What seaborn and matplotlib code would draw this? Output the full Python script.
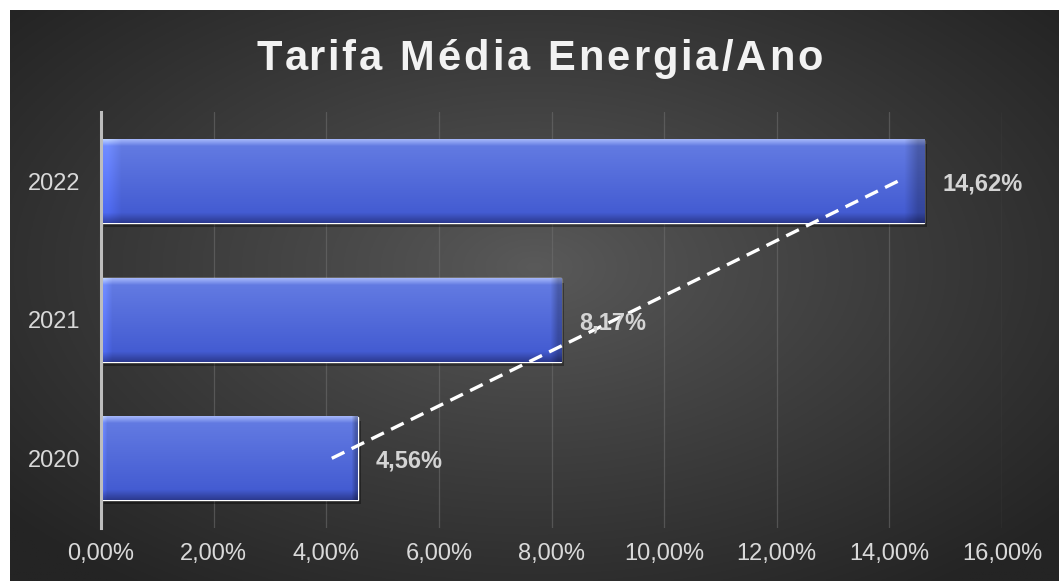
import numpy as np
import matplotlib
matplotlib.use("Agg")
import matplotlib.pyplot as plt
import seaborn as sns

# Dados
anos = ['2022', '2021', '2020']
tarifa = [14.62, 8.17, 4.56]
rotulos = ['14,62%', '8,17%', '4,56%']
ticks_x = [0, 2, 4, 6, 8, 10, 12, 14, 16]
titulo = 'Tarifa Média Energia/Ano'

sns.set_style("white")
plt.rcParams['font.family'] = ['Liberation Sans', 'DejaVu Sans']

fig = plt.figure(figsize=(10.59, 5.81), dpi=100)
fig.patch.set_facecolor('white')

# fundo escuro com gradiente radial
bg_ax = fig.add_axes([10 / 1059, 0, 1049 / 1059, 571 / 581], zorder=-10)
yy, xx = np.mgrid[-1:1:300j, -1:1:500j]
r = np.clip(np.sqrt((xx * 0.95) ** 2 + ((yy + 0.1) * 0.9) ** 2) / 1.25, 0, 1)
c_centro = np.array([0x5a, 0x5a, 0x5a]) / 255
c_borda = np.array([0x24, 0x24, 0x24]) / 255
fundo = c_centro + (c_borda - c_centro) * r[..., None] ** 0.9
bg_ax.imshow(fundo, aspect='auto', extent=(0, 1, 0, 1))
bg_ax.axis('off')

ax = fig.add_axes([101 / 1059, 53 / 581, 901 / 1059, 416 / 581])
ax.set_facecolor('none')

sns.barplot(x=tarifa, y=anos, orient='h', width=0.6, color='#5470dc',
            ax=ax, zorder=3)

# gradiente nas barras
h_img = 100
perfil = np.linspace(0, 1, h_img)
topo = np.array([0xa4, 0xb6, 0xfa]) / 255
meio1 = np.array([0x62, 0x7a, 0xe2]) / 255
meio2 = np.array([0x44, 0x5c, 0xd2]) / 255
base = np.array([0x2c, 0x3a, 0x90]) / 255
cores = []
for p in perfil:
    if p < 0.08:
        c = topo + (meio1 - topo) * (p / 0.08)
    elif p < 0.88:
        c = meio1 + (meio2 - meio1) * ((p - 0.08) / 0.80)
    elif p < 0.94:
        c = meio2 + (base - meio2) * ((p - 0.88) / 0.06) * 0.5
    else:
        c = meio2 + (base - meio2) * (0.5 + (p - 0.94) / 0.06 * 0.5)
    cores.append(c)
grad = np.array(cores)[:, None, :].repeat(60, axis=1)
grad[:, -1, :] = grad[:, -1, :] * 0.75
grad[:, 0, :] = np.clip(grad[:, 0, :] * 1.15, 0, 1)

for patch in ax.patches:
    x0, y0 = patch.get_x(), patch.get_y()
    w, h = patch.get_width(), patch.get_height()
    # sombra
    ax.add_patch(plt.Rectangle((x0 + 0.05, y0 + 0.03), w, h, color='black',
                               alpha=0.35, zorder=2, lw=0))
    ax.imshow(grad, aspect='auto', extent=(x0, x0 + w, y0 + h, y0),
              zorder=4, interpolation='bilinear')

# linha de tendencia
idx = np.arange(len(anos))
coef = np.polyfit(idx, tarifa, 1)
ax.plot(np.polyval(coef, idx[[0, -1]]), idx[[0, -1]], color='white',
        lw=2.4, ls=(0, (4.2, 2.4)), zorder=6)

# rotulos de dados
for i, (v, txt) in enumerate(zip(tarifa, rotulos)):
    ax.text(v + 0.32, i + 0.02, txt, va='center', ha='left', fontsize=17,
            fontweight='bold', color='#d4d4d4', zorder=7)

ax.set_xlim(0, 16)
ax.set_ylim(2.5, -0.5)
ax.set_xticks(ticks_x)
ax.set_xticklabels([f'{t:.2f}%'.replace('.', ',') for t in ticks_x])
ax.tick_params(axis='both', colors='#d9d9d9', labelsize=17, length=0)
ax.tick_params(axis='x', pad=11)
ax.tick_params(axis='y', pad=15)
ax.xaxis.grid(True, color='#707070', lw=0.9, alpha=0.55, zorder=0)
ax.set_axisbelow(True)
for s in ['top', 'right', 'bottom']:
    ax.spines[s].set_visible(False)
ax.spines['left'].set_color('#bdbdbd')
ax.spines['left'].set_linewidth(2.2)
ax.spines['left'].set_zorder(8)
ax.set_xlabel('')
ax.set_ylabel('')

# titulo com espacamento entre letras
renderer = fig.canvas.get_renderer()
props = dict(fontsize=30, fontweight='bold', color='#f2f2f2')


def largura(s):
    t = fig.text(0, 0, s, **props)
    w = t.get_window_extent(renderer).width
    t.remove()
    return w


espaco = 3.0
w_bar = largura('|')
posicoes = [largura(titulo[:i] + '|') - w_bar for i in range(len(titulo))]
total = largura(titulo) + espaco * (len(titulo) - 1)
x_ini = 539.5 - total / 2
for i, ch in enumerate(titulo):
    if ch == ' ':
        continue
    fig.text((x_ini + posicoes[i] + espaco * i) / 1059, 1 - 59 / 581, ch,
             ha='left', va='center', **props)

fig.savefig('out.png', dpi=100)
